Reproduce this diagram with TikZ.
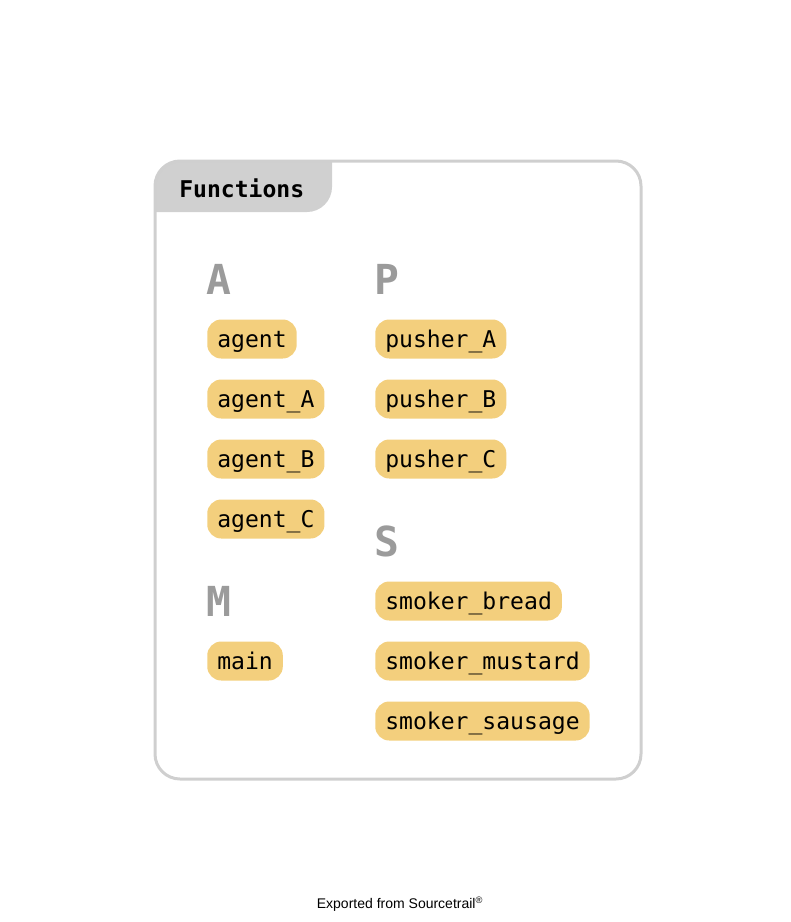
\documentclass[tikz,border=0pt]{standalone}
\usepackage{fontspec}
\setmonofont{DejaVu Sans Mono}
\newfontfamily\footfont{Liberation Sans}
\definecolor{frame}{HTML}{CFCFCF}
\definecolor{tabfill}{HTML}{D0D0D0}
\definecolor{pill}{HTML}{F3CF7D}
\definecolor{initial}{HTML}{9B9B9B}
\begin{document}
\begin{tikzpicture}[x=0.75pt,y=-0.75pt,
  fn/.style={anchor=west, fill=pill, rounded corners=10.5pt, inner xsep=7.5pt,
    inner ysep=0pt, minimum height=29.25pt, text height=15pt, text depth=3pt,
    font=\ttfamily\fontsize{17.3pt}{20pt}\selectfont},
  letter/.style={anchor=west, inner sep=0pt, text=initial,
    font=\ttfamily\bfseries\fontsize{31pt}{34pt}\selectfont},
  hdr/.style={anchor=west, inner sep=0pt, font=\ttfamily\bfseries\fontsize{17.3pt}{20pt}\selectfont}]
\useasboundingbox (0,0) rectangle (790,922);
% header tab of the group box
\fill[tabfill] (155,212) -- (155,186) arc[start angle=180,end angle=270,radius=25]
  -- (332,161) -- (332,187) arc[start angle=0,end angle=90,radius=25] -- cycle;
\draw[frame, line width=2.25pt, rounded corners=18.75pt] (155,161) rectangle (641,779);
\node[hdr] (title) at (179,188) {Functions};
% initials
\node[letter] (la) at (206,279) {A};
\node[letter] (lm) at (206,601) {M};
\node[letter] (lp) at (374,279) {P};
\node[letter] (ls) at (374,541) {S};
% function entries
\node[fn] (agent) at (207,339) {agent};
\node[fn] (agentA) at (207,399) {agent\_A};
\node[fn] (agentB) at (207,459) {agent\_B};
\node[fn] (agentC) at (207,519) {agent\_C};
\node[fn] (main) at (207,661) {main};
\node[fn] (pushA) at (375,339) {pusher\_A};
\node[fn] (pushB) at (375,399) {pusher\_B};
\node[fn] (pushC) at (375,459) {pusher\_C};
\node[fn] (smokeB) at (375,601) {smoker\_bread};
\node[fn] (smokeM) at (375,661) {smoker\_mustard};
\node[fn] (smokeS) at (375,721) {smoker\_sausage};
% footer
\node[font=\footfont\fontsize{10.5pt}{12pt}\selectfont, inner sep=0pt] (foot) at (400,904)
  {Exported from Sourcetrail\textsuperscript{\fontsize{7pt}{8pt}\selectfont ®}};
\end{tikzpicture}
\end{document}
